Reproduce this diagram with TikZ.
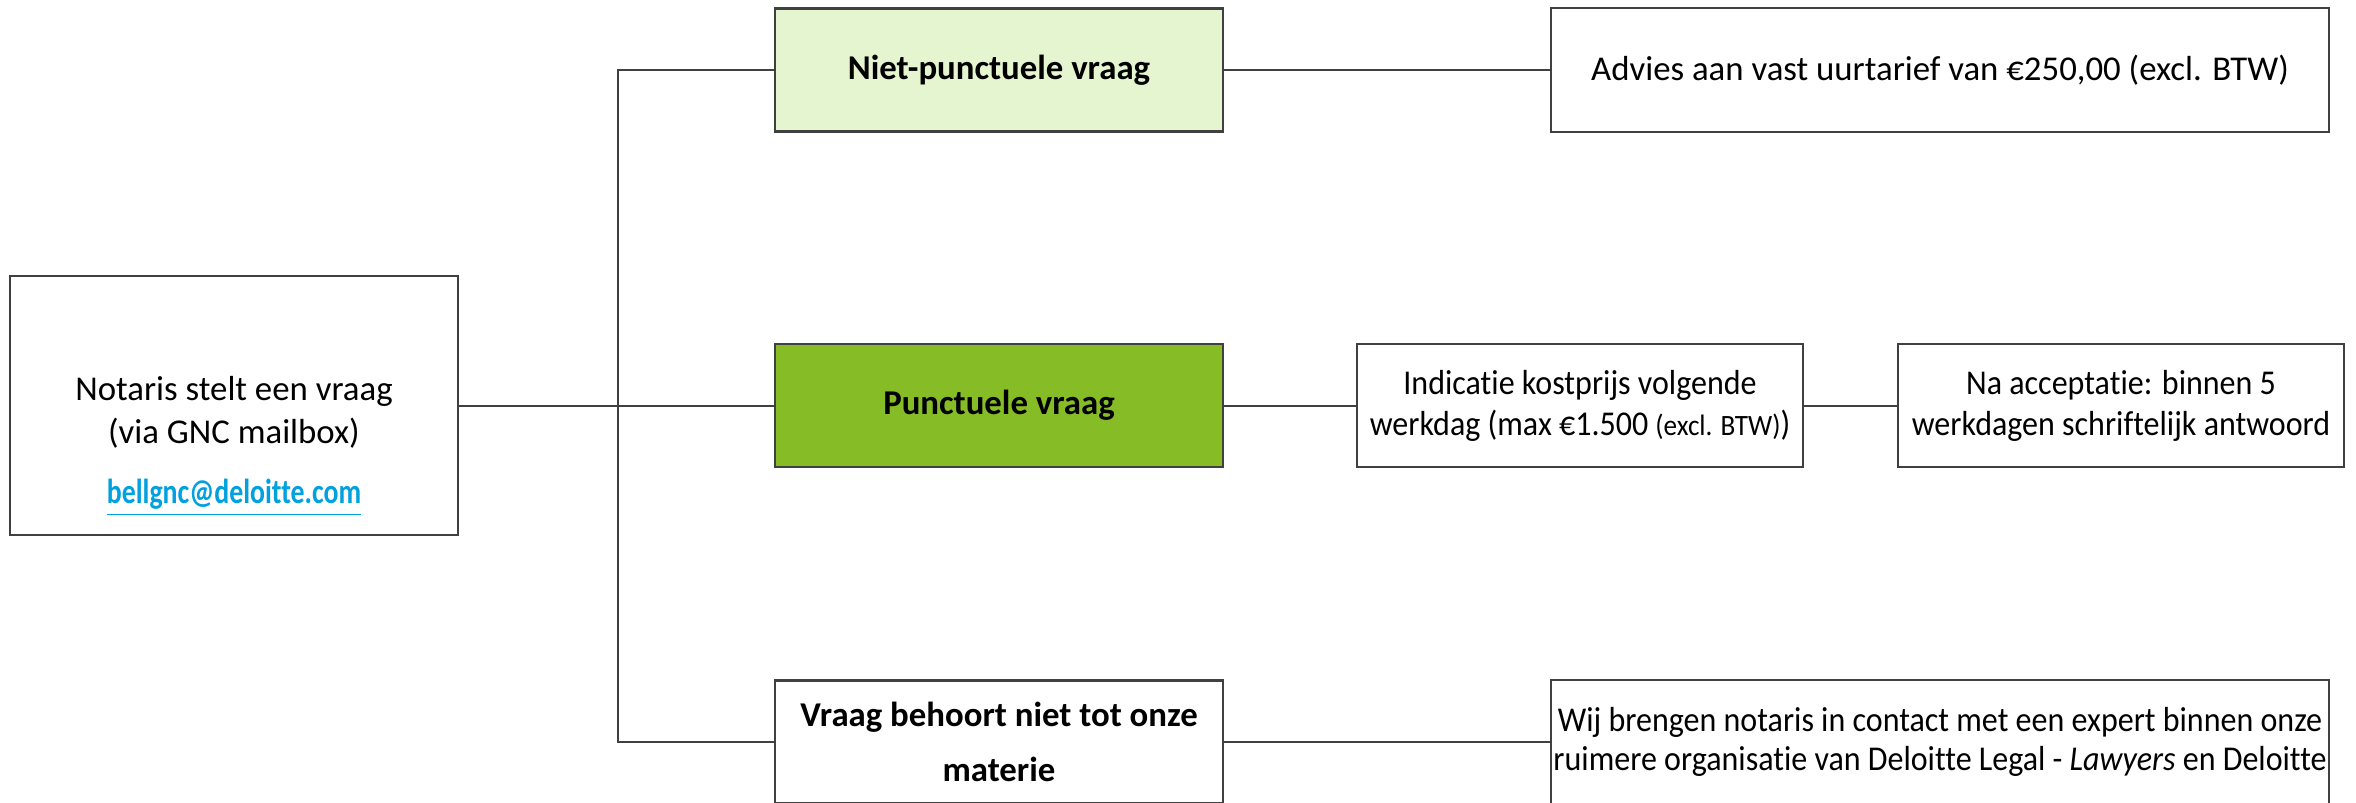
\documentclass[tikz,border=0pt]{standalone}
\usepackage{fontspec}
\setmainfont{Carlito}[Ligatures=NoCommon]
\newfontfamily\narrowfont{Carlito}[Ligatures=NoCommon, FakeStretch=0.92]
\newfontfamily\mailfont{Carlito}[Ligatures=NoCommon, FakeStretch=0.80]
\begin{document}
\begin{tikzpicture}
    % Define colour palette
    \definecolor{lightgreen}{RGB}{229,245,208}
    \definecolor{darkgreen}{RGB}{134,188,37}
    \definecolor{mailblue}{RGB}{0,161,222}
    \definecolor{linegray}{RGB}{64,64,64}

    % Define box and line styles
    \tikzset{
        box/.style={
            draw=linegray,
            fill=white,
            line width=0.6pt,
            align=center,
            font=\fontsize{9.9}{11.6}\selectfont,
            inner xsep=0pt,
            inner ysep=2pt
        },
        smallbox/.style={
            box,
            minimum width=4.46cm,
            minimum height=1.23cm
        },
        widebox/.style={
            box,
            minimum width=7.78cm,
            minimum height=1.24cm
        },
        typebox/.style={
            box,
            minimum width=4.48cm,
            minimum height=1.23cm,
            font=\fontsize{9.9}{11.6}\selectfont\bfseries
        },
        link/.style={
            linegray,
            line width=0.6pt
        }
    }

    \useasboundingbox (0,0) rectangle (23.56,8.02);

    % Starting question
    \node[box, minimum width=4.48cm, minimum height=2.59cm, font=\fontsize{9.9}{12.2}\selectfont] (notaris) at (2.34, 3.963) {\rule{0pt}{30pt}Notaris stelt een vraag\\(via GNC mailbox)\\[5pt]{\mailfont\color{mailblue}\bfseries\underline{bellgnc@deloitte.com}}};

    % Question types
    \node[typebox, fill=lightgreen] (nietpunct) at (9.99, 7.32) {Niet-punctuele vraag};
    \node[typebox, fill=darkgreen] (punct) at (9.99, 3.963) {Punctuele vraag};
    \node[typebox] (nietmat) at (9.99, 0.60) {Vraag behoort niet tot onze\\[4pt]materie};

    % Outcomes
    \node[widebox] (advies) at (19.40, 7.32) {Advies aan vast uurtarief van €250,00 (excl. BTW)};
    \node[smallbox, font=\fontsize{9.9}{11.6}\narrowfont] (indicatie) at (15.80, 3.963) {Indicatie kostprijs volgende\\werkdag (max €1.500 {\fontsize{8.4}{9}\selectfont(excl. BTW)})};
    \node[smallbox, font=\fontsize{9.9}{11.6}\narrowfont] (acceptatie) at (21.21, 3.963) {Na acceptatie: binnen 5\\werkdagen schriftelijk antwoord};
    \node[widebox, font=\fontsize{9.9}{11.2}\narrowfont] (expert) at (19.40, 0.60) {Wij brengen notaris in contact met een expert binnen onze\\ruimere organisatie van Deloitte Legal - \textit{Lawyers} en Deloitte};

    % Split point
    \coordinate (split) at (6.18, 3.963);

    % Connectors
    \draw[link] (notaris.east) -- (punct.west);
    \draw[link] (nietpunct.west) -| (split) |- (nietmat.west);
    \draw[link] (nietpunct.east) -- (advies.west);
    \draw[link] (punct.east) -- (indicatie.west);
    \draw[link] (indicatie.east) -- (acceptatie.west);
    \draw[link] (nietmat.east) -- (expert.west);

\end{tikzpicture}
\end{document}
